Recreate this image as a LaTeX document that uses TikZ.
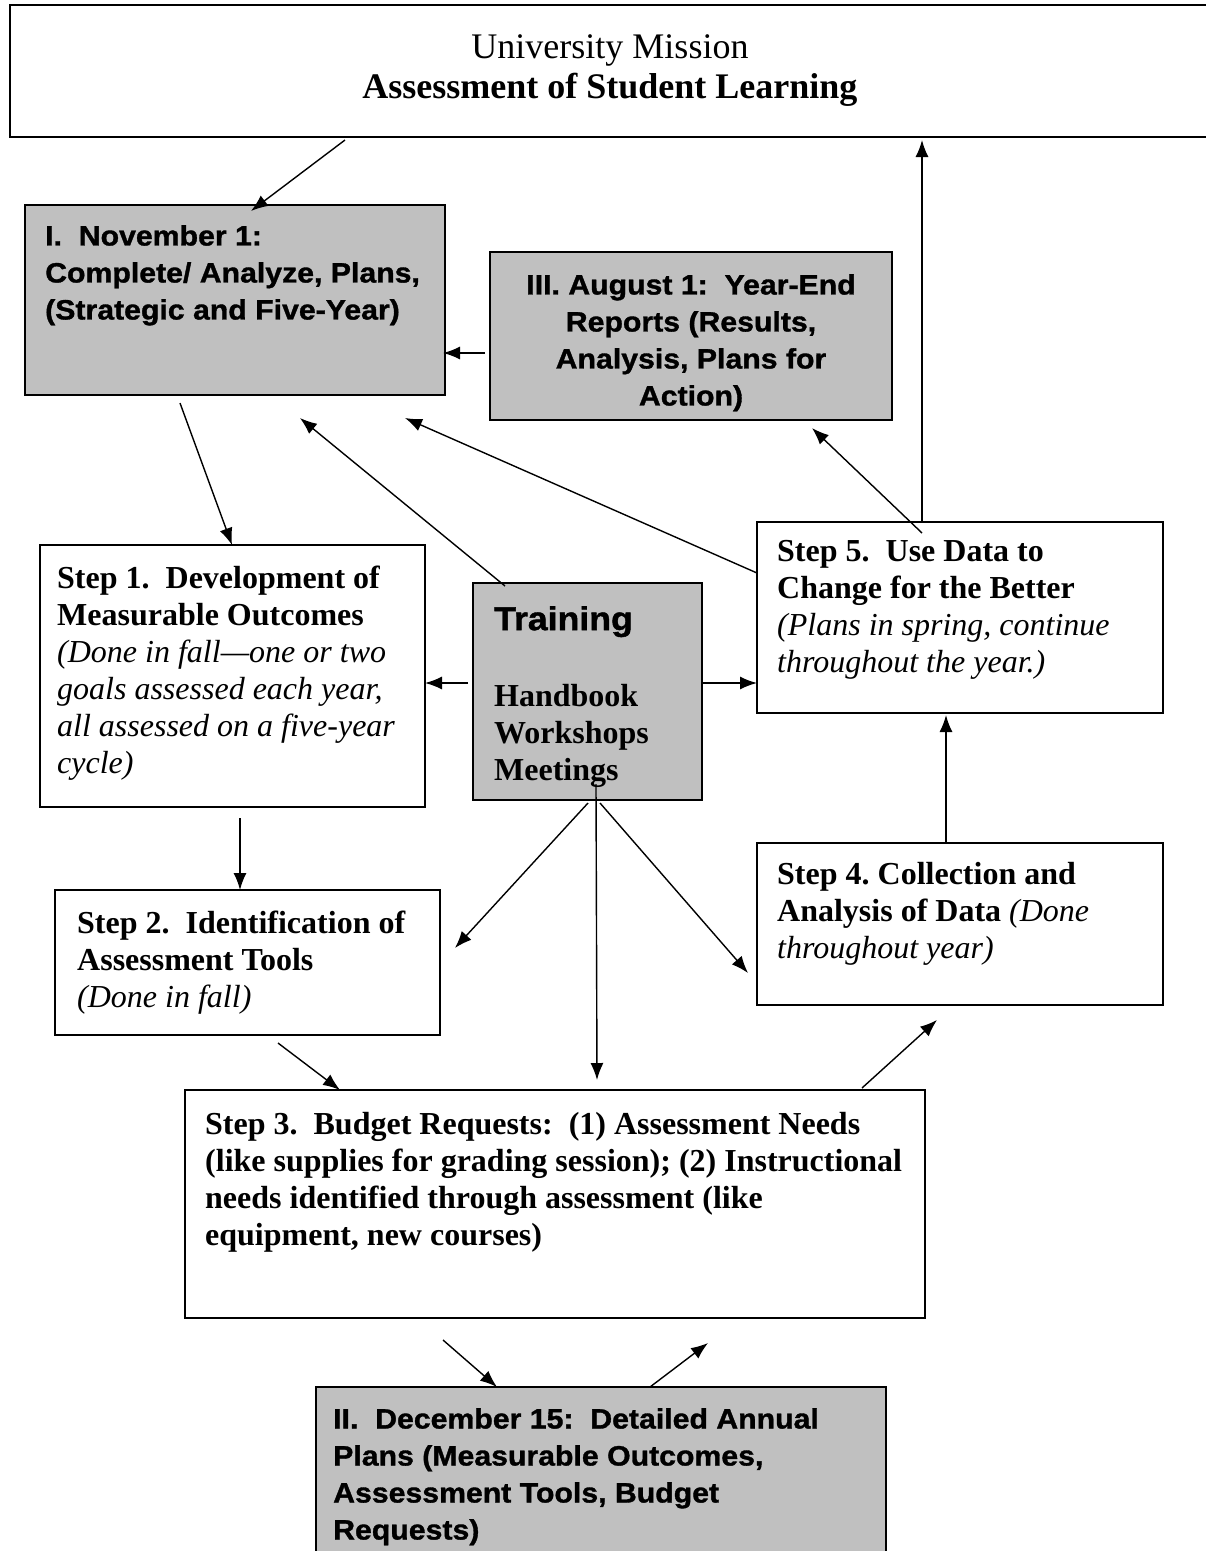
\documentclass[tikz,border=0pt]{standalone}
\usepackage{fontspec}
\setmainfont{Liberation Serif}
\newfontfamily\heavy[FakeStretch=1.08, FakeBold=1.2]{Liberation Sans}
\usetikzlibrary{arrows.meta,calc}
\definecolor{boxgray}{RGB}{192,192,192}
\frenchspacing
\tikzset{
  box/.style={draw, line width=1.5pt, anchor=north west, inner sep=0pt, outer sep=0pt},
  gbox/.style={box, fill=boxgray},
  txt/.style={anchor=north west, inner sep=0pt, align=left},
  serif/.style={font=\fontsize{32}{37}\selectfont},
  sans/.style={font=\heavy\bfseries\fontsize{28}{37}\selectfont},
  arr/.style={-{Latex[length=17pt,width=13pt]}, line width=1.4pt}
}
\begin{document}
\begin{tikzpicture}[x=1pt,y=-1pt]
\path[use as bounding box, clip] (0,0) rectangle (1206,1551);
\fill[white] (0,0) rectangle (1206,1551);

% boxes
\node[box, minimum width=1260pt, minimum height=132pt] (top) at (10,5) {};
\node[gbox, minimum width=420pt, minimum height=190pt] (nov) at (25,205) {};
\node[gbox, minimum width=402pt, minimum height=168pt] (aug) at (490,252) {};
\node[box, minimum width=385pt, minimum height=262pt] (s1) at (40,545) {};
\node[gbox, minimum width=229pt, minimum height=217pt] (tr) at (473,583) {};
\node[box, minimum width=406pt, minimum height=191pt] (s5) at (757,522) {};
\node[box, minimum width=406pt, minimum height=162pt] (s4) at (757,843) {};
\node[box, minimum width=385pt, minimum height=145pt] (s2) at (55,890) {};
\node[box, minimum width=740pt, minimum height=228pt] (s3) at (185,1090) {};
\node[gbox, minimum width=570pt, minimum height=200pt] (dec) at (316,1387) {};

% texts
\node[anchor=north, inner sep=0pt, align=center, font=\fontsize{36}{40}\selectfont] (topt) at (610,34)
  {University Mission\\ \textbf{Assessment of Student Learning}};
\node[txt, sans] (novt) at (45,225)
  {I.\ \ November 1:\\Complete/ Analyze, Plans,\\(Strategic and Five-Year)};
\node[anchor=north, inner sep=0pt, align=center, sans] (augt) at (691,274)
  {III. August 1:\ \ Year-End\\Reports (Results,\\Analysis, Plans for\\Action)};
\node[txt, serif] (s1t) at (57,566)
  {\textbf{Step 1.\ \ Development of}\\\textbf{Measurable Outcomes}\\\textit{(Done in fall---one or two}\\\textit{goals assessed each year,}\\\textit{all assessed on a five-year}\\\textit{cycle)}};
\node[txt, font=\heavy\bfseries\fontsize{33}{37}\selectfont] (trt) at (494,606) {Training};
\node[txt, serif] (trl) at (494,684)
  {\textbf{Handbook}\\\textbf{Workshops}\\\textbf{Meetings}};
\node[txt, serif] (s5t) at (777,540)
  {\textbf{Step 5.\ \ Use Data to}\\\textbf{Change for the Better}\\\textit{(Plans in spring, continue}\\\textit{throughout the year.)}};
\node[txt, serif] (s4t) at (777,862)
  {\textbf{Step 4. Collection and}\\\textbf{Analysis of Data} \textit{(Done}\\\textit{throughout year)}};
\node[txt, serif] (s2t) at (77,911)
  {\textbf{Step 2.\ \ Identification of}\\\textbf{Assessment Tools}\\\textit{(Done in fall)}};
\node[txt, serif, font=\bfseries\fontsize{32}{37}\selectfont] (s3t) at (205,1112)
  {Step 3.\ \ Budget Requests:\ \ (1) Assessment Needs\\(like supplies for grading session); (2) Instructional\\needs identified through assessment (like\\equipment, new courses)};
\node[txt, sans] (dect) at (333,1408)
  {II.\ \ December 15:\ \ Detailed Annual\\Plans (Measurable Outcomes,\\Assessment Tools, Budget\\Requests)};

% connector end points (yshift: positive = up on the page)
\coordinate (c1) at ([xshift=335pt,yshift=-3pt]top.south west);
\coordinate (c2) at ([xshift=226pt,yshift=-6pt]nov.north west);
\coordinate (c3) at ([xshift=-5pt,yshift=-101pt]aug.north west);
\coordinate (c4) at ([xshift=-2pt,yshift=-148pt]nov.north east);
\coordinate (c5) at ([xshift=32pt,yshift=-3pt]tr.north west);
\coordinate (c6) at ([xshift=275pt,yshift=-23pt]nov.south west);
\coordinate (c7) at ([yshift=-51pt]s5.north west);
\coordinate (c8) at ([xshift=380pt,yshift=-23pt]nov.south west);
\coordinate (c9) at ([xshift=165pt,yshift=-11pt]s5.north west);
\coordinate (c10) at ([xshift=322pt,yshift=-8pt]aug.south west);
\coordinate (c11) at ([xshift=165pt]s5.north west);
\coordinate (c12) at ([xshift=912pt,yshift=-3pt]top.south west);
\coordinate (c13) at ([xshift=155pt,yshift=-8pt]nov.south west);
\coordinate (c14) at ([xshift=192pt]s1.north west);
\coordinate (c15) at ([xshift=-5pt,yshift=-100pt]tr.north west);
\coordinate (c16) at ([yshift=-138pt]s1.north east);
\coordinate (c17) at ([yshift=-100pt]tr.north east);
\coordinate (c18) at ([yshift=-161pt]s5.north west);
\coordinate (c19) at ([xshift=189pt]s4.north west);
\coordinate (c20) at ([xshift=189pt,yshift=-2pt]s5.south west);
\coordinate (c21) at ([xshift=115pt,yshift=-3pt]tr.south west);
\coordinate (c22) at ([xshift=15pt,yshift=-58pt]s2.north east);
\coordinate (c23) at ([xshift=123pt,yshift=16pt]tr.south west);
\coordinate (c24) at ([xshift=412pt,yshift=10pt]s3.north west);
\coordinate (c25) at ([xshift=127pt,yshift=-3pt]tr.south west);
\coordinate (c26) at ([xshift=-9pt,yshift=-130pt]s4.north west);
\coordinate (c27) at ([xshift=200pt,yshift=-11pt]s1.south west);
\coordinate (c28) at ([xshift=185pt]s2.north west);
\coordinate (c29) at ([xshift=223pt,yshift=-8pt]s2.south west);
\coordinate (c30) at ([xshift=155pt]s3.north west);
\coordinate (c31) at ([xshift=677pt,yshift=2pt]s3.north west);
\coordinate (c32) at ([xshift=180pt,yshift=-15pt]s4.south west);
\coordinate (c33) at ([xshift=258pt,yshift=-22pt]s3.south west);
\coordinate (c34) at ([xshift=181pt]dec.north west);
\coordinate (c35) at ([xshift=334pt]dec.north west);
\coordinate (c36) at ([xshift=523pt,yshift=-25pt]s3.south west);

% connectors
\draw[arr] (c1) -- (c2);
\draw[arr] (c3) -- (c4);
\draw[arr] (c5) -- (c6);
\draw[arr] (c7) -- (c8);
\draw[arr] (c9) -- (c10);
\draw[arr] (c11) -- (c12);
\draw[arr] (c13) -- (c14);
\draw[arr] (c15) -- (c16);
\draw[arr] (c17) -- (c18);
\draw[arr] (c19) -- (c20);
\draw[arr] (c21) -- (c22);
\draw[arr] (c23) -- (c24);
\draw[arr] (c25) -- (c26);
\draw[arr] (c27) -- (c28);
\draw[arr] (c29) -- (c30);
\draw[arr] (c31) -- (c32);
\draw[arr] (c33) -- (c34);
\draw[arr] (c35) -- (c36);
\end{tikzpicture}
\end{document}
